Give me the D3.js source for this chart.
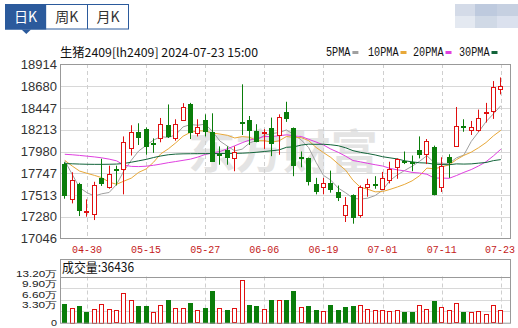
<!DOCTYPE html>
<html>
<head>
<meta charset="utf-8">
<style>
  body { margin: 0; background: #fff; }
  svg { display: block; }
  .cjk { font-family: "Noto Sans CJK SC", "Liberation Sans", sans-serif; }
  .mono { font-family: "Liberation Mono", "DejaVu Sans Mono", monospace; }
  .num { font-family: "Liberation Sans", Arial, sans-serif; }
</style>
<script src="https://cdn.jsdelivr.net/npm/d3@7"></script>
</head>
<body>
<svg id="chart" width="518" height="328"></svg>
<script>
// trading days shown (MM-DD)
const dates = ["04-25","04-26","04-29","04-30","05-06","05-07","05-08","05-09","05-10","05-13",
  "05-14","05-15","05-16","05-17","05-20","05-21","05-22","05-23","05-24","05-27",
  "05-28","05-29","05-30","05-31","06-03","06-04","06-05","06-06","06-07","06-11",
  "06-12","06-13","06-14","06-17","06-18","06-19","06-20","06-21","06-24","06-25",
  "06-26","06-27","06-28","07-01","07-02","07-03","07-04","07-05","07-08","07-09",
  "07-10","07-11","07-12","07-15","07-16","07-17","07-18","07-19","07-22","07-23"];
const xLabels = ["04-30","05-15","05-27","06-06","06-19","07-01","07-11","07-23"];

const open  = [17850,17473,17626,17335,17315,17697,17601,17790,17793,18015,18192,18220,18075,18125,18262,
  18131,18322,18488,18178,18316,18192,17948,18001,17918,18302,18316,18202,18182,18231,18157,
  18404,18231,17922,17908,17633,17597,17637,17549,17309,17509,17298,17597,17636,17580,17676,
  17815,17873,17865,17998,17955,18026,17601,17918,18035,18250,18220,18220,18400,18412,18652];
const high  = [17865,17757,17644,17466,17655,17902,17828,17828,18142,18262,18283,18238,18121,18340,18485,
  18326,18499,18502,18326,18379,18390,18035,18035,18035,18701,18361,18273,18220,18344,18379,
  18514,18238,17980,17915,17697,17697,17775,17615,17491,17520,17615,17687,17715,17761,17870,
  17906,17980,17937,18142,18114,18043,17918,17950,18458,18326,18308,18430,18502,18736,18775];
const low   = [17473,17423,17287,17280,17244,17610,17580,17615,17520,17937,18050,17945,17966,18079,18125,
  18096,18308,18114,18142,18142,17870,17838,17838,17768,18157,18050,18079,18008,17930,17945,
  18298,17715,17811,17615,17520,17520,17538,17448,17223,17205,17269,17495,17580,17566,17637,
  17687,17845,17768,17906,17845,17509,17545,17697,18030,18192,18157,18192,18291,18330,18593];
const close = [17520,17672,17351,17345,17623,17640,17740,17780,18079,18192,18139,18033,18068,18270,18142,
  18280,18460,18192,18238,18202,17882,17940,17930,17980,18294,18210,18096,18190,18072,18354,
  18344,17838,17914,17662,17563,17644,17575,17491,17411,17269,17597,17626,17630,17697,17793,
  17898,17866,17858,17955,18096,17520,17829,17862,18255,18245,18248,18344,18408,18673,18687];

const volume = [52600,43000,46900,31600,40200,54500,40200,35400,86100,64100,48800,46900,31600,50700,64100,
  43000,43000,55500,35400,41100,90000,43000,35400,41100,121500,49800,46900,39200,65100,65100,
  65100,90900,44000,47900,36400,33500,50700,36400,44000,47900,50700,39200,36400,36400,34500,
  36400,30600,30600,50700,39200,62200,44000,36400,55500,30600,31600,33500,24900,49800,36436];

const ma5  = [17880,17735,17592,17538,17502,17526,17540,17626,17772,17886,17986,18045,18102,18140,18130,
  18159,18244,18269,18262,18274,18195,18091,18038,17987,18005,18071,18102,18154,18172,18184,
  18211,18160,18104,18022,17864,17724,17672,17587,17537,17478,17469,17479,17507,17564,17669,
  17729,17777,17822,17874,17935,17859,17852,17852,17912,17942,18088,18191,18300,18384,18472];
const ma10 = [17885,17824,17770,17746,17724,17699,17652,17628,17662,17694,17756,17792,17864,17956,18008,
  18072,18144,18186,18201,18202,18177,18167,18154,18125,18140,18133,18096,18096,18080,18095,
  18141,18131,18129,18097,18024,17968,17916,17846,17780,17671,17596,17575,17547,17550,17573,
  17599,17628,17665,17719,17802,17794,17814,17837,17893,17938,17973,18021,18076,18148,18207];
const ma20 = [17950,17945,17938,17930,17922,17912,17898,17880,17835,17820,17818,17822,17832,17845,17860,
  17872,17885,17898,17920,17948,17966,17980,18009,18041,18074,18103,18120,18141,18141,18149,
  18159,18149,18141,18111,18082,18050,18006,17971,17930,17883,17869,17853,17838,17824,17799,
  17783,17772,17755,17749,17736,17695,17695,17692,17722,17756,17786,17825,17870,17933,18004];
const ma30 = [17850,17848,17845,17843,17842,17842,17843,17845,17852,17865,17880,17895,17915,17932,17945,
  17952,17955,17956,17957,17957,17958,17958,17959,17960,17962,17966,17972,17980,17988,17997,
  18025,18030,18049,18059,18057,18058,18052,18042,18020,17989,17971,17958,17943,17924,17912,
  17900,17880,17869,17859,17856,17844,17840,17838,17847,17845,17847,17855,17862,17882,17893];

const priceTicks = [17046,17280,17513,17747,17980,18213,18447,18680,18914];
const volTicks = [0,33000,66000,99000,132000];
const volTickLabels = ["0","3.30万","6.60万","9.90万","13.20万"];

const maNames = ["5PMA","10PMA","20PMA","30PMA"];
const maColors = ["#a0a0a0","#e8a838","#e040e0","#12643a"];

const RED = "#e01010", GREEN = "#0a7d0a", BLUE = "#2b5a9c";

const svg = d3.select("#chart");
const P = {left: 60, right: 510, top: 64, bottom: 238};
const V = {top: 259, head: 276.5, bottom: 322.7};

const x = d3.scaleBand().domain(d3.range(dates.length)).range([61.1, 504.5]);
const cx = i => x(i) + x.bandwidth() / 2;
const y = d3.scaleLinear().domain([17046, 18914]).range([238.5, 64.5]);
const vy = d3.scaleLinear().domain([0, 132000]).range([V.bottom, V.head]);

// ---- tabs ----
const tabs = ["日K","周K","月K"];
const tabX = d3.scaleBand().domain(tabs).range([5, 128.5]);
const tg = svg.append("g");
tg.append("rect").attr("x", 5.5).attr("y", 4.5).attr("width", 123).attr("height", 24.5)
  .attr("fill", "#fff").attr("stroke", BLUE);
tg.append("rect").attr("x", 5).attr("y", 4).attr("width", tabX.bandwidth()).attr("height", 25.5)
  .attr("fill", BLUE);
tg.append("line").attr("x1", 87.5).attr("x2", 87.5).attr("y1", 4.5).attr("y2", 29).attr("stroke", BLUE);
tg.append("path").attr("d", "M21.5,29.5L31,29.5L26.3,34Z").attr("fill", BLUE);
tg.selectAll("text").data(tabs).join("text")
  .attr("class", "cjk")
  .attr("x", d => tabX(d) + tabX.bandwidth() / 2).attr("y", 22)
  .attr("text-anchor", "middle").attr("font-size", 14)
  .attr("fill", (d, i) => i === 0 ? "#fff" : "#333")
  .text(d => d);

// blurred block top-right
const blur = [["#c9d2e2",455,4,20,12],["#aebdd6",475,4,22,12],["#b8c4da",497,4,21,12],
  ["#dde3ee",455,16,20,12],["#c4cfe0",475,16,22,12],["#d2daea",497,16,21,12]];
svg.append("g").selectAll("rect").data(blur).join("rect")
  .attr("x", d => d[1]).attr("y", d => d[2]).attr("width", d => d[3]).attr("height", d => d[4])
  .attr("fill", d => d[0]).attr("opacity", 0.8);

// ---- header ----
svg.append("text").attr("class", "cjk").attr("x", 60).attr("y", 57)
  .attr("font-size", 12).attr("fill", "#111")
  .attr("textLength", 198).attr("lengthAdjust", "spacingAndGlyphs")
  .text("生猪2409[lh2409] 2024-07-23 15:00");

// legend
const legX = [326, 368, 413, 459];
const leg = svg.append("g").selectAll("g").data(maNames).join("g")
  .attr("transform", (d, i) => `translate(${legX[i]},0)`);
leg.append("text").attr("class", "mono").attr("y", 56).attr("font-size", 12)
  .attr("fill", "#111").attr("textLength", d => d.length * 6.1)
  .attr("lengthAdjust", "spacingAndGlyphs").text(d => d);
leg.append("rect").attr("x", d => d.length * 6.1 + 2).attr("y", 51).attr("width", 6).attr("height", 3)
  .attr("fill", (d, i) => maColors[i]);

// ---- watermark ----
svg.append("text").attr("class", "cjk").attr("x", 188).attr("y", 168)
  .attr("font-size", 46).attr("font-weight", "bold").attr("fill", "#e4e4e4")
  .attr("textLength", 190).attr("lengthAdjust", "spacingAndGlyphs")
  .text("东方财富");

// ---- price grid ----
const grid = svg.append("g");
grid.selectAll("line.h").data(priceTicks.slice(1, -1)).join("line")
  .attr("x1", P.left).attr("x2", P.right)
  .attr("y1", d => Math.round(y(d)) + 0.5).attr("y2", d => Math.round(y(d)) + 0.5)
  .attr("stroke", "#d8d8d8");
const labelIdx = xLabels.map(l => dates.indexOf(l));
grid.selectAll("line.v").data(labelIdx).join("line")
  .attr("x1", d => Math.round(cx(d)) + 0.5).attr("x2", d => Math.round(cx(d)) + 0.5)
  .attr("y1", P.top).attr("y2", P.bottom)
  .attr("stroke", "#cfcfcf").attr("stroke-dasharray", "4,3");

svg.selectAll("text.py").data(priceTicks).join("text")
  .attr("class", "num").attr("x", 57).attr("y", d => y(d) + 4.5)
  .attr("text-anchor", "end").attr("font-size", 13).attr("fill", "#333")
  .text(d => d);

svg.selectAll("text.xl").data(xLabels).join("text")
  .attr("class", "mono").attr("x", (d, i) => Math.min(cx(labelIdx[i]), 500)).attr("y", 253)
  .attr("text-anchor", "middle").attr("font-size", 10).attr("fill", "#c41a1a")
  .text(d => d);

// ---- moving averages ----
const maData = [ma5, ma10, ma20, ma30];
const line = d3.line().x((d, i) => cx(i)).y(d => y(d));
svg.append("g").selectAll("path").data(maData).join("path")
  .attr("d", line).attr("fill", "none")
  .attr("stroke", (d, i) => maColors[i]).attr("stroke-width", 1);

// ---- candles ----
const candles = svg.append("g").selectAll("g").data(dates.map((d, i) => i)).join("g");
const up = i => close[i] >= open[i];
const px = v => Math.round(v) + 0.5;
candles.append("line")
  .attr("x1", i => px(cx(i) - 0.5)).attr("x2", i => px(cx(i) - 0.5))
  .attr("y1", i => y(high[i])).attr("y2", i => y(low[i]))
  .attr("stroke", i => up(i) ? RED : GREEN);
candles.append("rect")
  .attr("x", i => px(cx(i) - 2.5)).attr("width", 4)
  .attr("y", i => Math.round(y(Math.max(open[i], close[i]))) + 0.5)
  .attr("height", i => Math.max(1, Math.round(Math.abs(y(open[i]) - y(close[i])))))
  .attr("fill", i => up(i) ? "#fff" : GREEN)
  .attr("stroke", i => up(i) ? RED : GREEN);

// border
svg.append("rect").attr("x", P.left + 0.5).attr("y", P.top + 0.5)
  .attr("width", P.right - P.left).attr("height", P.bottom - P.top)
  .attr("fill", "none").attr("stroke", "#999");

// ---- volume panel ----
const vg = svg.append("g");
vg.selectAll("line.h").data(volTicks.slice(1, -1)).join("line")
  .attr("x1", P.left).attr("x2", P.right)
  .attr("y1", d => Math.round(vy(d)) + 0.5).attr("y2", d => Math.round(vy(d)) + 0.5)
  .attr("stroke", "#d8d8d8");
vg.selectAll("line.v").data(labelIdx).join("line")
  .attr("x1", d => Math.round(cx(d)) + 0.5).attr("x2", d => Math.round(cx(d)) + 0.5)
  .attr("y1", V.head).attr("y2", V.bottom)
  .attr("stroke", "#cfcfcf").attr("stroke-dasharray", "4,3");

const volUp = i => i > 0 && close[i] >= close[i - 1];
vg.selectAll("rect.bar").data(volume).join("rect")
  .attr("x", (d, i) => px(cx(i) - 2.5)).attr("width", 4)
  .attr("y", d => Math.round(vy(d)) + 0.5)
  .attr("height", d => Math.round(vy(0) - vy(d)))
  .attr("fill", (d, i) => volUp(i) ? "#fff" : GREEN)
  .attr("stroke", (d, i) => volUp(i) ? RED : GREEN);

vg.append("line").attr("x1", P.left).attr("x2", P.right)
  .attr("y1", Math.round(V.head) + 0.5).attr("y2", Math.round(V.head) + 0.5).attr("stroke", "#999");
vg.append("rect").attr("x", P.left + 0.5).attr("y", V.top + 0.5)
  .attr("width", P.right - P.left).attr("height", V.bottom - V.top)
  .attr("fill", "none").attr("stroke", "#999");

vg.append("text").attr("class", "cjk").attr("x", 62).attr("y", 272)
  .attr("font-size", 13).attr("fill", "#111")
  .attr("textLength", 72).attr("lengthAdjust", "spacingAndGlyphs")
  .text("成交量:" + volume[volume.length - 1]);

// volume tick labels sit in a compact stack to the left of the panel
vg.selectAll("text.vl").data(volTickLabels).join("text")
  .attr("class", "num").attr("x", 57)
  .attr("y", (d, i) => i === 0 ? vy(0) + 3.5 : vy(0) - 14.5 - (i - 1) * 10.5)
  .attr("text-anchor", "end").attr("font-size", 9).attr("fill", "#222")
  .attr("textLength", d => d === "0" ? 6 : (d.length > 5 ? 41 : 35))
  .attr("lengthAdjust", "spacingAndGlyphs")
  .text(d => d);
</script>
</body>
</html>
